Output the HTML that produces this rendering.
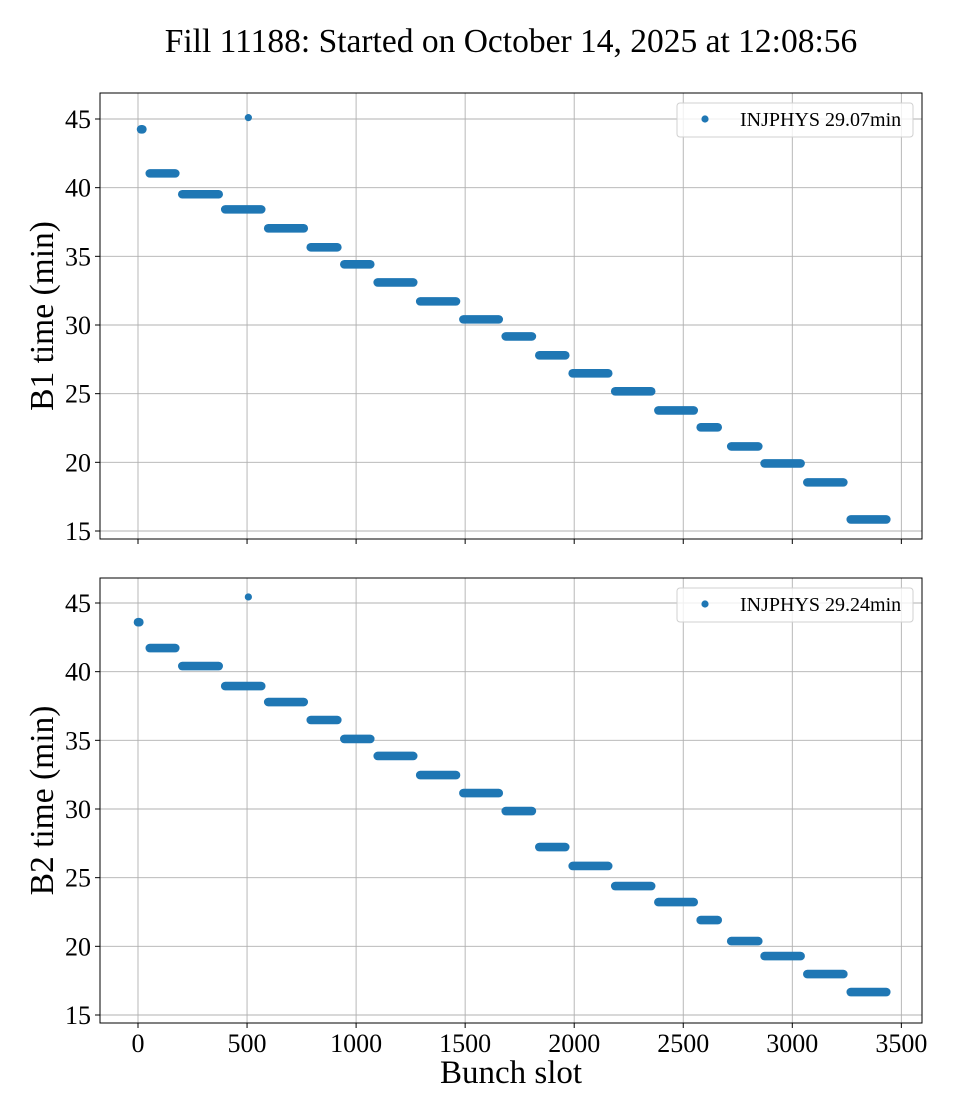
<!DOCTYPE html>
<html><head><meta charset="utf-8">
<style>
html,body{margin:0;padding:0;background:#fff;}
svg{display:block;font-family:"Liberation Serif",serif;}
</style></head>
<body>
<svg id="chart" width="960" height="1120" viewBox="0 0 960 1120">
<text x="511" y="52" font-size="33.5" text-anchor="middle">Fill 11188: Started on October 14, 2025 at 12:08:56</text>
<text x="511" y="1083" font-size="33" text-anchor="middle">Bunch slot</text>
</svg>
<script>
// x-axis ticks
const xTicks = [0, 500, 1000, 1500, 2000, 2500, 3000, 3500];
const yTicks = [15, 20, 25, 30, 35, 40, 45];
// B1 segments (bunch slot start/end, time in min)
const b1Start = [14, 54, 203, 400, 597, 792, 946, 1099, 1294, 1492, 1686, 1840, 1993, 2188, 2386, 2580, 2720, 2873, 3069, 3268];
const b1End   = [20, 171, 370, 565, 760, 914, 1065, 1262, 1458, 1654, 1806, 1959, 2156, 2353, 2548, 2658, 2844, 3038, 3234, 3431];
const b1Time  = [44.25, 41.04, 39.52, 38.42, 37.04, 35.66, 34.42, 33.1, 31.72, 30.41, 29.17, 27.79, 26.48, 25.17, 23.78, 22.55, 21.16, 19.92, 18.54, 15.84];
const b1Single = [[506, 45.1]];
// B2 segments
const b2Start = [0, 54, 203, 400, 597, 792, 946, 1099, 1294, 1492, 1686, 1840, 1993, 2188, 2386, 2580, 2720, 2873, 3069, 3268];
const b2End   = [6, 171, 370, 565, 760, 914, 1065, 1262, 1458, 1654, 1806, 1959, 2156, 2353, 2548, 2658, 2844, 3038, 3234, 3431];
const b2Time  = [43.6, 41.72, 40.41, 38.95, 37.79, 36.48, 35.1, 33.86, 32.47, 31.16, 29.85, 27.23, 25.85, 24.39, 23.22, 21.91, 20.38, 19.29, 17.98, 16.67];
const b2Single = [[506, 45.44]];
const legendLabels = ["INJPHYS 29.07min", "INJPHYS 29.24min"];
const yLabels = ["B1 time (min)", "B2 time (min)"];

const NS = "http://www.w3.org/2000/svg";
const svg = document.getElementById('chart');
function mk(tag, attrs, parent) {
  const e = document.createElementNS(NS, tag);
  for (const k in attrs) e.setAttribute(k, attrs[k]);
  (parent || svg).appendChild(e);
  return e;
}
const L = 100, R = 922;
const xs = v => 138 + v * 0.2181;
const C = '#1f77b4';

const panels = [
  {top: 93, bot: 539, y45: 119, starts: b1Start, ends: b1End, times: b1Time, singles: b1Single, label: yLabels[0], legend: legendLabels[0], showX: false, name: 'b1'},
  {top: 578, bot: 1023, y45: 603, starts: b2Start, ends: b2End, times: b2Time, singles: b2Single, label: yLabels[1], legend: legendLabels[1], showX: true, name: 'b2'}
];

panels.forEach(p => {
  const ys = v => p.y45 + (45 - v) * 13.733;
  const g = mk('g', {});
  
  
  xTicks.forEach(t => {
    const l = mk('line', {x1: xs(t), x2: xs(t), y1: p.top, y2: p.bot, stroke: '#b0b0b0', 'stroke-width': 0.9}, g);
    
    
    const tk = mk('line', {x1: xs(t), x2: xs(t), y1: p.bot, y2: p.bot + 5, stroke: '#000', 'stroke-width': 1}, g);
    
    
    if (p.showX) {
      const tx = mk('text', {x: xs(t), y: p.bot + 29, 'font-size': 26, 'text-anchor': 'middle'}, g);
      tx.textContent = t;
      
      
    }
  });
  yTicks.forEach(t => {
    const l = mk('line', {x1: L, x2: R, y1: ys(t), y2: ys(t), stroke: '#b0b0b0', 'stroke-width': 0.9}, g);
    
    
    const tk = mk('line', {x1: L - 5, x2: L, y1: ys(t), y2: ys(t), stroke: '#000', 'stroke-width': 1}, g);
    
    
    const tx = mk('text', {x: L - 9, y: ys(t) + 9, 'font-size': 26, 'text-anchor': 'end'}, g);
    tx.textContent = t;
    
    
  });
  p.starts.forEach((s, i) => {
    const seg = mk('line', {x1: xs(s), x2: xs(p.ends[i]), y1: ys(p.times[i]), y2: ys(p.times[i]), stroke: C, 'stroke-width': 8.6, 'stroke-linecap': 'round'}, g);
    
    
  });
  p.singles.forEach(d => {
    const c = mk('circle', {cx: xs(d[0]), cy: ys(d[1]), r: 3.6, fill: C}, g);
    
    
  });
  const fr = mk('rect', {x: L, y: p.top, width: R - L, height: p.bot - p.top, fill: 'none', stroke: '#000', 'stroke-width': 1}, g);
  
  
  const cy = (p.top + p.bot) / 2;
  const yl = mk('text', {x: 53, y: cy, 'font-size': 33.5, 'text-anchor': 'middle', transform: `rotate(-90 53 ${cy})`}, g);
  yl.textContent = p.label;
  
  
  const lg = mk('g', {}, g);
  
  
  mk('rect', {x: 677, y: p.top + 10, width: 236, height: 34, rx: 3, fill: '#fff', 'fill-opacity': 0.8, stroke: '#d0d0d0', 'stroke-width': 1}, lg);
  const lm = mk('circle', {cx: 705, cy: p.top + 26, r: 3.6, fill: C}, lg);
  
  
  const lt = mk('text', {x: 740, y: p.top + 33, 'font-size': 20}, lg);
  lt.textContent = p.legend;
  
  
});
</script>
</body></html>
